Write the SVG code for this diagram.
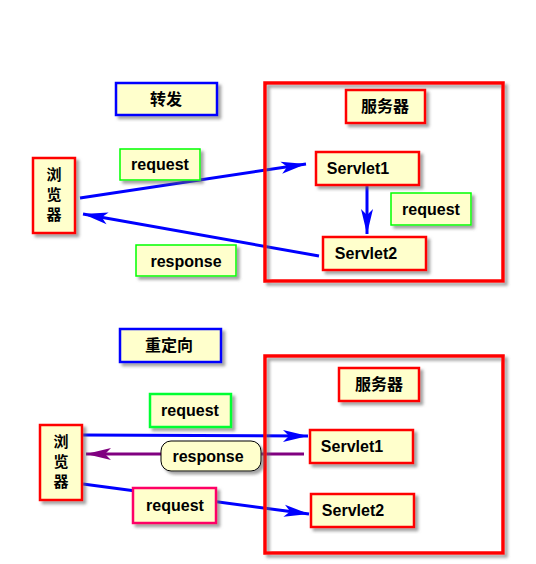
<svg xmlns="http://www.w3.org/2000/svg" width="536" height="564" viewBox="0 0 536 564">
<style>
.box{fill:#FFFFCC;filter:url(#sh)}
.red{stroke:#FF0000;stroke-width:2.5}
.blue{stroke:#0000FF;stroke-width:2.5}
.grn{stroke:#00FF00;stroke-width:1.5}
.grn2{stroke:#00FF33;stroke-width:2.5}
.pink{stroke:#FF0066;stroke-width:2.5}
.srv{fill:none;stroke:#FF0000;stroke-width:3.5;filter:url(#sh)}
.t{font-family:"Liberation Sans",Arial,sans-serif;font-weight:bold;font-size:16px;fill:#000;text-anchor:middle}
.c{font-family:"Noto Sans CJK SC","Noto Sans",sans-serif;font-weight:bold;font-size:16px;fill:#000;text-anchor:middle}
.v{font-family:"Noto Sans CJK SC","Noto Sans",sans-serif;font-weight:bold;font-size:15px;fill:#000;writing-mode:tb;glyph-orientation-vertical:0;letter-spacing:5px}
.ln{fill:none;stroke:#0000FF;stroke-width:3}
.pl{fill:none;stroke:#800080;stroke-width:3}
</style>
<defs>
<filter id="sh" x="-20%" y="-20%" width="140%" height="140%">
<feDropShadow dx="3" dy="3" stdDeviation="1.5" flood-color="#666" flood-opacity="0.6"/>
</filter>
<marker id="ab" markerUnits="userSpaceOnUse" viewBox="-26 -7 28 14" refX="0" refY="0" markerWidth="28" markerHeight="14" orient="auto">
<path d="M0,0 L-25,-6 L-19,0 L-25,6 Z" fill="#0000FF"/>
</marker>
<marker id="ap" markerUnits="userSpaceOnUse" viewBox="-26 -7 28 14" refX="0" refY="0" markerWidth="28" markerHeight="14" orient="auto">
<path d="M0,0 L-25,-6 L-19,0 L-25,6 Z" fill="#800080"/>
</marker>
</defs>
<rect width="536" height="564" fill="#fff"/>

<g id="connectors">
<line class="ln" x1="80" y1="198" x2="306" y2="164" marker-end="url(#ab)"/>
<line class="ln" x1="319" y1="256" x2="83" y2="214" marker-end="url(#ab)"/>
<line class="ln" x1="367" y1="185" x2="367" y2="234" marker-end="url(#ab)"/>
<line class="ln" x1="83" y1="435" x2="308" y2="436" marker-end="url(#ab)"/>
<line class="pl" x1="304" y1="454" x2="86" y2="454" marker-end="url(#ap)"/>
<line class="ln" x1="83" y1="484" x2="309" y2="514" marker-end="url(#ab)"/>
</g>

<g id="server1"><rect class="srv" x="265" y="83" width="238" height="198"/></g>
<g id="server2"><rect class="srv" x="265" y="356" width="238" height="197"/></g>

<g id="forward"><rect class="box blue" x="116" y="83" width="101" height="32"/><text class="c" x="166" y="105">转发</text></g>
<g id="req1"><rect class="box grn" x="120" y="149" width="80" height="31"/><text class="t" x="160" y="170">request</text></g>
<g id="browser1"><rect class="box red" x="33" y="158" width="42" height="75"/>
<text class="v" x="54" y="167">浏览器</text></g>
<g id="resp1"><rect class="box grn" x="136" y="245" width="100" height="31"/><text class="t" x="186" y="267">response</text></g>
<g id="srvlabel1"><rect class="box red" x="346" y="90" width="79" height="33"/><text class="c" x="385" y="112">服务器</text></g>
<g id="servlet1a"><rect class="box red" x="316" y="152" width="103" height="33"/><text class="t" x="358" y="174">Servlet1</text></g>
<g id="req2"><rect class="box grn" x="391" y="193" width="80" height="32"/><text class="t" x="431" y="215">request</text></g>
<g id="servlet2a"><rect class="box red" x="323" y="237" width="103" height="33"/><text class="t" x="366" y="259">Servlet2</text></g>

<g id="redirect"><rect class="box blue" x="120" y="329" width="101" height="33"/><text class="c" x="169" y="351">重定向</text></g>
<g id="req3"><rect class="box grn2" x="150" y="394" width="81" height="33"/><text class="t" x="190" y="416">request</text></g>
<g id="browser2"><rect class="box red" x="40" y="425" width="42" height="75"/>
<text class="v" x="61" y="434">浏览器</text></g>
<g id="resp2"><rect class="box" x="161" y="441" width="100" height="30" rx="10" stroke="#000" stroke-width="1"/><text class="t" x="208" y="462">response</text></g>
<g id="req4"><rect class="box pink" x="133" y="488" width="83" height="35"/><text class="t" x="175" y="511">request</text></g>
<g id="srvlabel2"><rect class="box red" x="339" y="368" width="80" height="33"/><text class="c" x="379" y="390">服务器</text></g>
<g id="servlet1b"><rect class="box red" x="310" y="430" width="103" height="33"/><text class="t" x="352" y="452">Servlet1</text></g>
<g id="servlet2b"><rect class="box red" x="311" y="494" width="103" height="33"/><text class="t" x="353" y="516">Servlet2</text></g>
</svg>
